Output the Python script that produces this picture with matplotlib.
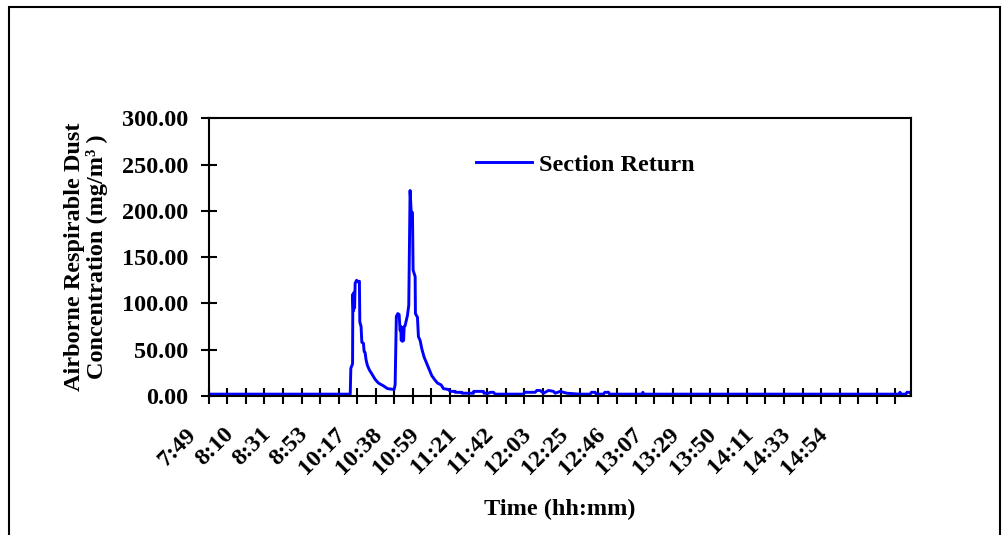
import numpy as np
import matplotlib
matplotlib.use("Agg")
import matplotlib.pyplot as plt
from matplotlib.patches import Rectangle

plt.rcParams['font.family'] = ['Liberation Serif', 'DejaVu Serif']
plt.rcParams['font.weight'] = 'bold'
plt.rcParams['axes.labelweight'] = 'bold'

# samples are 20 s apart (sample index, mg/m3)
sample_idx = [0, 244, 245, 247, 248, 248.5, 249.5, 250.5, 251.5, 252.5, 255, 258, 259.8,
              260.5, 262.7, 264, 266.7, 268, 269.6, 271.3, 273.6, 277.1, 281.1, 286.9,
              292.6, 301.2, 308.1, 319.6, 321.4, 323.5, 326, 328.3, 330, 331, 332, 333,
              334, 335, 336, 337, 338.6, 342.6, 344.9, 347.2, 349, 351.3, 352.4, 355.9,
              356.4, 359.9, 361.6, 364.5, 367.4, 371.4, 376, 380.6, 384.6, 390.4, 394.4,
              400.7, 404.7, 413.4, 416.2, 424.9, 425, 436.4, 437, 456.5, 457, 473.8,
              474.5, 482.4, 485.2, 491, 493.9, 542.7, 545, 562.9, 565.8, 571.5, 577.3,
              585.9, 594.5, 597.4, 606, 617.5, 640, 657.7, 660, 666.4, 668, 680.8, 683,
              689.4, 691, 747, 748.6, 750, 1190, 1192, 1194, 1202, 1204, 1209, 1211]
dust = [2, 2, 30, 33, 35, 110, 92, 112, 95, 122, 125, 123, 124,
        80, 75, 58, 57, 48, 47, 39, 33, 28, 24, 18,
        14, 11, 8, 7, 12, 86, 89, 88, 71, 75, 60, 74,
        59, 73, 60, 75, 76, 87, 98, 222, 200, 198, 136, 129,
        89, 85, 64, 60, 51, 42, 35, 28, 22, 17, 14,
        12, 8, 7, 5, 5, 4, 4, 3, 3, 5, 5,
        3, 3, 4, 4, 2, 2, 4, 4, 6, 6, 3,
        6, 5, 3, 5, 3, 2, 2, 4, 4, 2, 2, 4,
        4, 2, 2, 4, 2, 2, 4, 2, 2, 4, 4, 2]

time_labels = ["7:49", "8:10", "8:31", "8:53", "10:17", "10:38", "10:59", "11:21",
               "11:42", "12:03", "12:25", "12:46", "13:07", "13:29", "13:50", "14:11",
               "14:33", "14:54"]
n_samples = 1211
fs = 17.5

fig = plt.figure(figsize=(10.05, 5.35), dpi=100)
ax = fig.add_axes([0.2077, 0.2598, 0.6988, 0.5191])

ax.plot(sample_idx, dust, color='#0000ff', lw=2.1, label='Section Return')

ax.set_xlim(0, n_samples)
ax.set_ylim(0, 300)
ax.set_yticks(np.arange(0, 301, 50))
ax.set_yticklabels([f"{v:.2f}" for v in np.arange(0, 301, 50)])
ax.tick_params(axis='y', direction='inout', length=12, width=1.5, pad=8.5, labelsize=fs)
ax.set_xticks(np.arange(0, n_samples, 32))
ax.set_xticklabels([])
ax.tick_params(axis='x', direction='inout', length=11, width=1.5)

for k, lab in enumerate(time_labels):
    ax.text(-39 + 64 * k, -0.10, lab, transform=ax.get_xaxis_transform(),
            rotation=45, rotation_mode='anchor', ha='right', va='top',
            fontsize=fs, clip_on=False)

for sp in ax.spines.values():
    sp.set_linewidth(1.5)

ax.set_ylabel("Airborne Respirable Dust\nConcentration (mg/m\u00b3 )", fontsize=fs,
              labelpad=10, linespacing=1.1)
fig.text(560 / 1005, 1 - 509 / 535, "Time (hh:mm)", ha='center', va='center', fontsize=fs)

ax.legend(loc='center left', bbox_to_anchor=(0.3806, 0.832), frameon=False,
          fontsize=fs, handlelength=2.3, handletextpad=0.3, borderpad=0,
          borderaxespad=0)

fig.patches.append(Rectangle((8.5 / 1005, -0.1), (1000 - 8.5) / 1005, 1.1 - 6.7 / 535,
                             transform=fig.transFigure, fill=False, lw=1.5,
                             edgecolor='black'))

fig.savefig("out.png", dpi=100)
